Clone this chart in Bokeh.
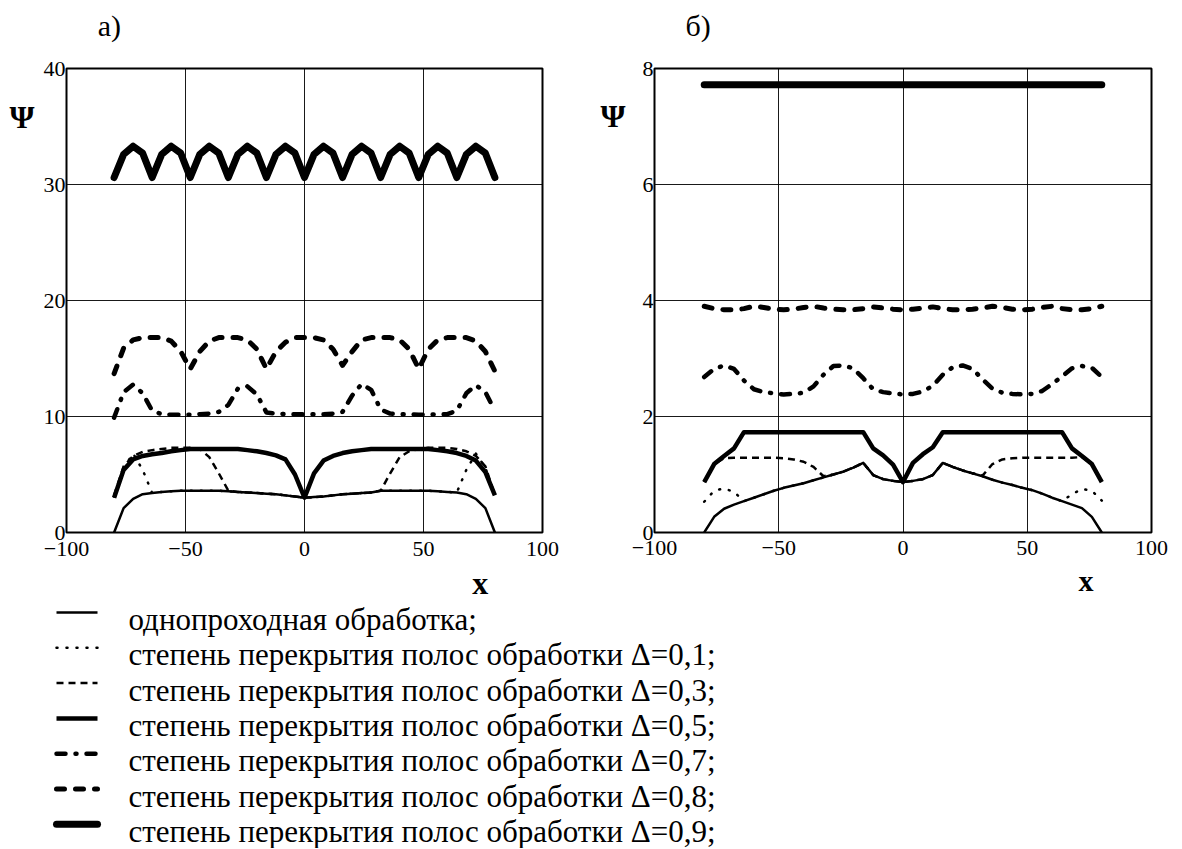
from bokeh.plotting import figure
from bokeh.layouts import column, row
from bokeh.models import Range1d, LinearAxis, FixedTicker, Spacer
from bokeh.core.properties import value
from bokeh.embed import file_html
from bokeh.resources import INLINE

FONT = "Liberation Serif"

# ---------------- data ----------------
X = [-80, -76, -72, -68, -64, -60, -56, -52, -48, -44, -40, -36, -32, -28, -24, -20,
     -16, -12, -8, -4, 0, 4, 8, 12, 16, 20, 24, 28, 32, 36, 40, 44, 48, 52, 56, 60,
     64, 68, 72, 76, 80]

# panel а)
A_D00 = [0.0, 2.1, 2.9, 3.3, 3.4, 3.5, 3.55, 3.6, 3.6, 3.6, 3.6, 3.6, 3.55, 3.5, 3.45, 3.4,
         3.35, 3.3, 3.2, 3.1, 3.0, 3.05, 3.1, 3.2, 3.3, 3.35, 3.4, 3.45, 3.6, 3.6, 3.6, 3.6,
         3.6, 3.6, 3.55, 3.5, 3.45, 3.3, 2.9, 2.1, 0.0]
A_D01 = [3.1, 5.6, 6.8, 5.4, 3.4, 3.5, 3.55, 3.6, 3.6, 3.6, 3.6, 3.6, 3.55, 3.5, 3.45, 3.4,
         3.35, 3.3, 3.2, 3.1, 3.0, 3.05, 3.1, 3.2, 3.3, 3.35, 3.4, 3.45, 3.6, 3.6, 3.6, 3.6,
         3.6, 3.6, 3.55, 3.5, 3.45, 5.4, 6.8, 5.6, 3.1]
A_D03 = [3.2, 5.7, 6.6, 6.95, 7.1, 7.2, 7.3, 7.3, 7.3, 7.2, 6.5, 5.1, 3.6, 3.5, 3.45, 3.4,
         3.35, 3.3, 3.2, 3.1, 3.0, 3.05, 3.1, 3.2, 3.3, 3.35, 3.4, 3.45, 3.6, 5.1, 6.5, 7.0,
         7.2, 7.3, 7.3, 7.3, 7.2, 7.0, 6.6, 5.7, 3.2]
A_D05 = [3.0, 5.4, 6.3, 6.6, 6.75, 6.85, 7.0, 7.1, 7.2, 7.2, 7.2, 7.2, 7.2, 7.2, 7.1, 7.0,
         6.85, 6.65, 6.3, 5.0, 3.0, 5.1, 6.2, 6.6, 6.85, 7.0, 7.1, 7.2, 7.2, 7.2, 7.2, 7.2,
         7.2, 7.2, 7.1, 7.0, 6.85, 6.6, 6.2, 5.2, 3.2]
A_D07 = [9.9, 12.1, 12.75, 12.0, 10.5, 10.2, 10.15, 10.15, 10.15, 10.2, 10.25, 10.4, 11.0,
         12.4, 12.6, 11.9, 10.35, 10.25, 10.2, 10.2, 10.2, 10.2, 10.2, 10.25, 10.4, 11.8,
         12.8, 12.3, 10.6, 10.25, 10.2, 10.2, 10.15, 10.15, 10.2, 10.2, 10.5, 12.0, 12.7,
         12.1, 10.5]
A_D08 = [13.7, 15.9, 16.6, 16.8, 16.8, 16.8, 16.5, 15.6, 14.1, 15.6, 16.5, 16.8, 16.8, 16.8,
         16.6, 15.8, 14.1, 15.6, 16.4, 16.8, 16.8, 16.8, 16.6, 15.8, 14.4, 15.6, 16.6, 16.8,
         16.8, 16.8, 16.6, 15.8, 14.1, 15.8, 16.6, 16.8, 16.8, 16.8, 16.5, 15.6, 13.9]
A_D09 = [30.6, 32.6, 33.3, 32.7, 30.6, 32.6, 33.3, 32.7, 30.6, 32.6, 33.3, 32.7, 30.6, 32.6,
         33.3, 32.7, 30.6, 32.6, 33.3, 32.7, 30.6, 32.6, 33.3, 32.7, 30.6, 32.6, 33.3, 32.7,
         30.6, 32.6, 33.3, 32.7, 30.6, 32.6, 33.3, 32.7, 30.6, 32.6, 33.3, 32.7, 30.6]

# panel б)
B_D00 = [0.0, 0.27, 0.41, 0.48, 0.54, 0.60, 0.66, 0.72, 0.77, 0.81, 0.85, 0.90, 0.95, 1.00,
         1.05, 1.12, 1.20, 0.99, 0.92, 0.89, 0.87, 0.89, 0.92, 0.99, 1.20, 1.13, 1.07, 1.02,
         0.97, 0.91, 0.86, 0.82, 0.77, 0.73, 0.67, 0.60, 0.54, 0.48, 0.42, 0.27, 0.0]
B_D01 = [0.53, 0.72, 0.76, 0.70, 0.54, 0.60, 0.66, 0.72, 0.77, 0.81, 0.85, 0.90, 0.95, 1.00,
         1.05, 1.12, 1.20, 0.99, 0.92, 0.89, 0.87, 0.89, 0.92, 0.99, 1.20, 1.13, 1.07, 1.02,
         0.97, 0.91, 0.86, 0.82, 0.77, 0.73, 0.67, 0.60, 0.54, 0.66, 0.75, 0.72, 0.55]
B_D03 = [0.87, 1.18, 1.28, 1.29, 1.29, 1.29, 1.29, 1.29, 1.28, 1.26, 1.22, 1.13, 0.97, 1.00,
         1.05, 1.12, 1.20, 0.99, 0.92, 0.89, 0.87, 0.89, 0.92, 0.99, 1.20, 1.13, 1.07, 1.02,
         0.98, 1.18, 1.26, 1.28, 1.29, 1.29, 1.29, 1.29, 1.29, 1.29, 1.30, 1.18, 0.87]
B_D05 = [0.87, 1.18, 1.32, 1.45, 1.73, 1.73, 1.73, 1.73, 1.73, 1.73, 1.73, 1.73, 1.73, 1.73,
         1.73, 1.73, 1.73, 1.45, 1.33, 1.17, 0.87, 1.20, 1.35, 1.47, 1.73, 1.73, 1.73, 1.73,
         1.73, 1.73, 1.73, 1.73, 1.73, 1.73, 1.73, 1.73, 1.73, 1.45, 1.32, 1.18, 0.87]
B_D07 = [2.68, 2.82, 2.88, 2.82, 2.62, 2.47, 2.42, 2.40, 2.38, 2.39, 2.41, 2.52, 2.72, 2.87,
         2.88, 2.83, 2.66, 2.47, 2.42, 2.40, 2.38, 2.39, 2.43, 2.53, 2.72, 2.85, 2.88, 2.82,
         2.64, 2.48, 2.41, 2.39, 2.38, 2.39, 2.44, 2.56, 2.69, 2.83, 2.87, 2.84, 2.68]
B_D08 = [3.90, 3.86, 3.84, 3.84, 3.86, 3.90, 3.88, 3.85, 3.84, 3.85, 3.88, 3.90, 3.87, 3.85,
         3.84, 3.84, 3.86, 3.89, 3.87, 3.85, 3.84, 3.85, 3.87, 3.89, 3.86, 3.84, 3.84, 3.85,
         3.87, 3.90, 3.88, 3.85, 3.84, 3.85, 3.88, 3.90, 3.86, 3.84, 3.84, 3.86, 3.90]
B_D09 = [7.72, 7.72, 7.72, 7.72, 7.72, 7.72, 7.72, 7.72, 7.72, 7.72, 7.72, 7.72, 7.72, 7.72,
         7.72, 7.72, 7.72, 7.72, 7.72, 7.72, 7.72, 7.72, 7.72, 7.72, 7.72, 7.72, 7.72, 7.72,
         7.72, 7.72, 7.72, 7.72, 7.72, 7.72, 7.72, 7.72, 7.72, 7.72, 7.72, 7.72, 7.72]

KEYS = ["d00", "d01", "d03", "d05", "d07", "d08", "d09"]
LEGEND_TEXT = [
    "однопроходная обработка;",
    "степень перекрытия полос обработки Δ=0,1;",
    "степень перекрытия полос обработки Δ=0,3;",
    "степень перекрытия полос обработки Δ=0,5;",
    "степень перекрытия полос обработки Δ=0,7;",
    "степень перекрытия полос обработки Δ=0,8;",
    "степень перекрытия полос обработки Δ=0,9;",
]
X_TICKS = [-100, -50, 0, 50, 100]
X_TICK_TEXT = {-100: "\u2212100", -50: "\u221250", 0: "0", 50: "50", 100: "100"}
A_Y_TICKS = [0, 10, 20, 30, 40]
B_Y_TICKS = [0, 2, 4, 6, 8]

A_SERIES = dict(zip(KEYS, [A_D00, A_D01, A_D03, A_D05, A_D07, A_D08, A_D09]))
B_SERIES = dict(zip(KEYS, [B_D00, B_D01, B_D03, B_D05, B_D07, B_D08, B_D09]))

# ---------------- styles ----------------
STYLE = {
    "d00": dict(line_width=2.5),
    "d01": dict(line_width=2.5, line_dash="1 9", line_cap="round"),
    "d03": dict(line_width=2.5, line_dash="7 5"),
    "d05": dict(line_width=4.5),
    "d07": dict(line_width=4.5, line_dash="9 10 1 10", line_cap="round"),
    "d08": dict(line_width=5, line_dash="8 11", line_cap="round"),
    "d09": dict(line_width=7, line_cap="round"),
}


def text_axis(tick, text, size, bold, standoff):
    """An axis carrying one label only (used for panel letter / axis names)."""
    ax = LinearAxis(ticker=FixedTicker(ticks=[tick]), major_label_overrides={tick: text})
    ax.axis_line_color = None
    ax.major_tick_line_color = None
    ax.minor_tick_line_color = None
    ax.major_label_text_font = FONT
    ax.major_label_text_font_size = size
    ax.major_label_text_color = "black"
    if bold:
        ax.major_label_text_font_style = "bold"
    ax.major_label_standoff = standoff
    return ax


def panel(y_end, y_ticks, series, borders, letter, letter_x, psi_y, psi_off,
          xlab_x, xlab_size, tick_off):
    left, right, top, bottom, fw, fh = borders
    p = figure(width=left + fw + right, height=top + fh + bottom,
               x_range=Range1d(-100, 100), y_range=Range1d(0, y_end),
               output_backend="svg", toolbar_location=None,
               min_border_left=left, min_border_right=right,
               min_border_top=top, min_border_bottom=bottom)
    p.background_fill_color = "white"
    p.border_fill_color = "white"
    p.outline_line_color = "black"
    p.outline_line_width = 2
    p.xaxis.ticker = X_TICKS
    p.xaxis.major_label_overrides = X_TICK_TEXT
    p.yaxis.ticker = y_ticks
    for ax in (p.xaxis, p.yaxis):
        ax.axis_line_color = None
        ax.major_tick_in = 0
        ax.major_tick_out = 0
        ax.minor_tick_line_color = None
        ax.major_label_text_font = FONT
        ax.major_label_text_font_size = "22px"
        ax.major_label_text_color = "black"
    p.xaxis.major_label_standoff = tick_off
    p.yaxis.major_label_standoff = 1
    p.grid.grid_line_color = "black"
    p.grid.grid_line_width = 1
    p.grid.grid_line_alpha = 0.9

    for k in KEYS:
        p.line(X, series[k], line_color="black", line_join="round", **STYLE[k])

    p.add_layout(text_axis(psi_y, "Ψ", "32px", True, psi_off), "left")
    p.add_layout(text_axis(xlab_x, "x", xlab_size, True, 0), "below")
    p.add_layout(text_axis(letter_x, letter, "30px", False, 21), "above")
    return p


TOP_PAD, LEFT_PAD = 5, 6
pA = panel(40, A_Y_TICKS, A_SERIES, (53 - LEFT_PAD, 55, 68 - TOP_PAD, 71, 489, 464), "а)",
           -82.0, 35.85, 0, 73.8, "32px", 9)
pB = panel(8, B_Y_TICKS, B_SERIES, (54, 27, 68 - TOP_PAD, 67, 500, 468), "б)",
           -82.4, 7.18, 8, 73.6, "30px", 8)

# ---------------- legend block (page-pixel coordinates) ----------------
LEG_TOP = TOP_PAD + (68 - TOP_PAD) + 464 + 71
LEG_W, LEG_H = 1178, 848 - LEG_TOP
pL = figure(width=LEG_W, height=LEG_H,
            x_range=Range1d(0, LEG_W), y_range=Range1d(LEG_TOP + LEG_H, LEG_TOP),
            output_backend="svg", toolbar_location=None, min_border=0,
            x_axis_location=None, y_axis_location=None)
pL.outline_line_color = None
pL.grid.visible = False
pL.background_fill_color = "white"
pL.border_fill_color = "white"

SAMPLE_X0, SAMPLE_X1, TEXT_X = 56, 97, 128
ROW0, ROW_STEP, TEXT_DY = 612, 35.3, 7
rows_y = [ROW0 + i * ROW_STEP for i in range(len(KEYS))]
for k, yy in zip(KEYS, rows_y):
    pL.line([SAMPLE_X0, SAMPLE_X1], [yy, yy], line_color="black", line_join="round", **STYLE[k])
pL.text(x=[TEXT_X] * len(KEYS), y=[yy + TEXT_DY for yy in rows_y], text=LEGEND_TEXT,
        text_font=value(FONT), text_font_size="31px", text_color="black",
        text_align="left", text_baseline="middle")

layout = column(Spacer(height=TOP_PAD),
                row(Spacer(width=LEFT_PAD), pA, pB),
                pL)
open("out.html", "w").write(file_html(layout, INLINE))
